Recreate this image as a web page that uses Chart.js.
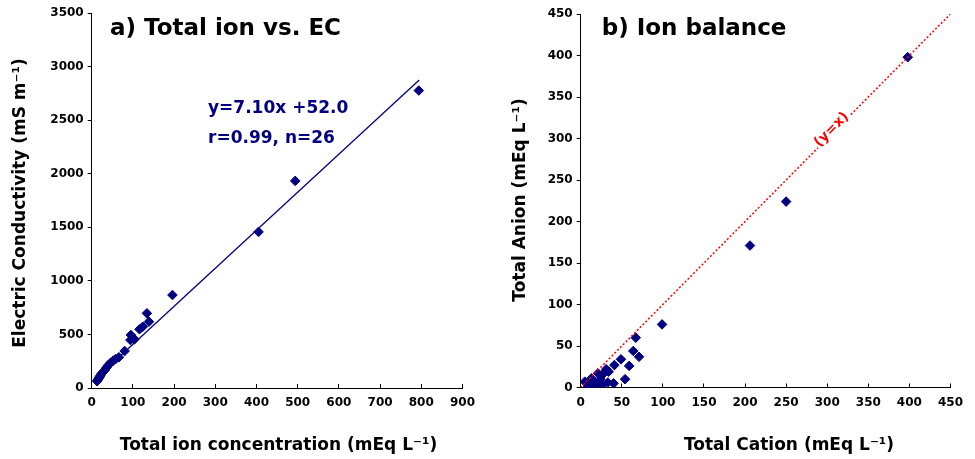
<!DOCTYPE html>
<html lang="en">
<head>
<meta charset="UTF-8">
<title>Total ion vs. EC / Ion balance</title>
<script src="https://cdn.jsdelivr.net/npm/chart.js"></script>
<style>
  body { margin: 0; background: #fff; }
  #wrap { position: relative; width: 975px; height: 459px; }
  canvas { position: absolute; top: 0; }
</style>
</head>
<body>
<div id="wrap">
  <canvas id="ecChart" width="487" height="459" style="left:0"></canvas>
  <canvas id="balChart" width="488" height="459" style="left:487px"></canvas>
</div>
<script>
// a) total ion concentration (mEq/L) against electric conductivity (mS/m)
const ionTotal = [794, 494, 405, 196, 134, 139, 124, 116, 95, 104, 94, 80, 66,
                  58, 52, 46, 40, 36, 32, 28, 24, 21, 19, 17, 15, 13];
const ecValues = [2776, 1933, 1457, 868, 697, 619, 572, 548, 495, 455, 448, 345, 287,
                  270, 255, 236, 212, 190, 168, 150, 134, 115, 102, 90, 76, 64];

// b) total cation against total anion (mEq/L)
const cationTotal = [398, 250, 206, 99, 67, 64, 71, 59, 49, 41, 54, 40, 31,
                     28, 33, 24, 34, 21, 13, 5, 26, 17, 10, 8, 14, 20];
const anionTotal = [398, 224, 171, 76, 60, 44, 37, 26, 34, 27, 10, 5, 22,
                    17, 6, 10, 19, 17, 11, 7, 3, 6, 2, 0, 0, 1];

// regression reported per equivalent; the x axis sums cations and anions
const fitSlope = 7.10;
const fitIntercept = 52.0;
const fitR = 0.99;
const fitFrom = 20, fitTo = 795;

const ecAxis = { min: 0, max: 3500, step: 500 };
const ionAxis = { min: 0, max: 900, step: 100 };
const balAxis = { min: 0, max: 450, step: 50 };

const navy = '#000080';
const FONT = 'DejaVu Sans';
Chart.defaults.font.family = FONT;
Chart.defaults.color = '#000';

const pts = (xs, ys) => xs.map((x, i) => ({ x: x, y: ys[i] }));
const fitAt = x => fitSlope * (x / 2) + fitIntercept;

// free text: headings, axis captions, equation and the 1:1 label
const textPlugin = {
  id: 'panelText',
  afterDraw(chart, args, opts) {
    const ctx = chart.ctx;
    (opts.items || []).forEach(it => {
      ctx.save();
      ctx.font = it.font;
      ctx.fillStyle = it.color || '#000';
      ctx.textAlign = it.align || 'left';
      ctx.textBaseline = it.baseline || 'alphabetic';
      let x = it.x, y = it.y, rot = it.rotate || 0;
      if (it.along) {
        const sx = chart.scales.x, sy = chart.scales.y;
        const a = it.along;
        const x0 = sx.getPixelForValue(a[0]), y0 = sy.getPixelForValue(a[1]);
        const x1 = sx.getPixelForValue(a[2]), y1 = sy.getPixelForValue(a[3]);
        rot = Math.atan2(y1 - y0, x1 - x0);
        x = sx.getPixelForValue(it.at);
        y = sy.getPixelForValue(it.at);
      }
      ctx.translate(x, y);
      ctx.rotate(rot);
      if (it.backdrop) {
        const w = ctx.measureText(it.text).width;
        ctx.fillStyle = '#fff';
        ctx.fillRect(-w / 2 - 1, -8 + (it.dy || 0), w + 2, 15);
        ctx.fillStyle = it.color;
      }
      ctx.fillText(it.text, 0, it.dy || 0);
      ctx.restore();
    });
  }
};

function axis(range, o) {
  return {
    type: 'linear',
    min: range.min,
    max: range.max,
    ticks: { stepSize: range.step, padding: o.pad, maxRotation: 0, autoSkip: false,
             font: { size: 12, weight: 'bold' }, callback: v => String(v) },
    grid: { drawOnChartArea: false, drawTicks: true, tickLength: o.tick, color: '#000' },
    border: { color: '#000', width: 1 },
    afterFit: s => { if (o.w) s.width = o.w; if (o.h) s.height = o.h; }
  };
}

const common = {
  responsive: false,
  animation: false,
  devicePixelRatio: 1
};

new Chart(document.getElementById('ecChart'), {
  type: 'scatter',
  data: {
    datasets: [{
      data: pts(ionTotal, ecValues),
      pointStyle: 'rectRot', pointRadius: 4.8, borderWidth: 1,
      backgroundColor: navy, borderColor: navy
    }, {
      type: 'line',
      data: [{ x: fitFrom, y: fitAt(fitFrom) }, { x: fitTo, y: fitAt(fitTo) }],
      borderColor: navy, borderWidth: 1.3, pointRadius: 0, fill: false
    }]
  },
  options: Object.assign({}, common, {
    layout: { padding: { left: 0, right: 21, top: 13, bottom: 0 } },
    scales: {
      x: axis(ionAxis, { pad: 12, tick: -4, h: 71 }),
      y: axis(ecAxis, { pad: 4, tick: 4, w: 91.7 })
    },
    plugins: {
      legend: { display: false },
      tooltip: { enabled: false },
      panelText: { items: [
        { text: 'a) Total ion vs. EC', x: 110, y: 35, font: 'bold 23px ' + FONT },
        { text: 'y=' + fitSlope.toFixed(2) + 'x +' + fitIntercept.toFixed(1), x: 208, y: 113,
          font: 'bold 17px ' + FONT, color: navy },
        { text: 'r=' + fitR.toFixed(2) + ', n=' + ionTotal.length, x: 208, y: 143,
          font: 'bold 17px ' + FONT, color: navy },
        { text: 'Total ion concentration (mEq L\u207B\u00B9)', x: 278.5, y: 450, align: 'center',
          font: 'bold 17px ' + FONT },
        { text: 'Electric Conductivity (mS m\u207B\u00B9)', x: 21, y: 203, rotate: -Math.PI / 2,
          align: 'center', baseline: 'middle', font: 'bold 17px ' + FONT }
      ] }
    }
  }),
  plugins: [textPlugin]
});

new Chart(document.getElementById('balChart'), {
  type: 'scatter',
  data: {
    datasets: [{
      type: 'line',
      data: [{ x: balAxis.min, y: balAxis.min }, { x: balAxis.max, y: balAxis.max }],
      borderColor: '#ff0000', borderWidth: 1.5, borderDash: [2, 2], pointRadius: 0, fill: false
    }, {
      data: pts(cationTotal, anionTotal),
      pointStyle: 'rectRot', pointRadius: 4.8, borderWidth: 1,
      backgroundColor: navy, borderColor: navy
    }]
  },
  options: Object.assign({}, common, {
    layout: { padding: { left: 0, right: 15, top: 14, bottom: 0 } },
    scales: {
      x: axis(balAxis, { pad: 12, tick: -4, h: 71.5 }),
      y: axis(balAxis, { pad: 4, tick: 4, w: 93.7 })
    },
    plugins: {
      legend: { display: false },
      tooltip: { enabled: false },
      panelText: { items: [
        { text: 'b) Ion balance', x: 114.7, y: 35, font: 'bold 23px ' + FONT },
        { text: '(y=x)', along: [0, 0, 450, 450], at: 308, dy: -3, align: 'center',
          baseline: 'middle', font: 'bold 14px ' + FONT, color: '#ff0000', backdrop: true },
        { text: 'Total Cation (mEq L\u207B\u00B9)', x: 302, y: 450, align: 'center',
          font: 'bold 17px ' + FONT },
        { text: 'Total Anion (mEq L\u207B\u00B9)', x: 34, y: 200, rotate: -Math.PI / 2,
          align: 'center', baseline: 'middle', font: 'bold 17px ' + FONT }
      ] }
    }
  }),
  plugins: [textPlugin]
});
</script>
</body>
</html>
